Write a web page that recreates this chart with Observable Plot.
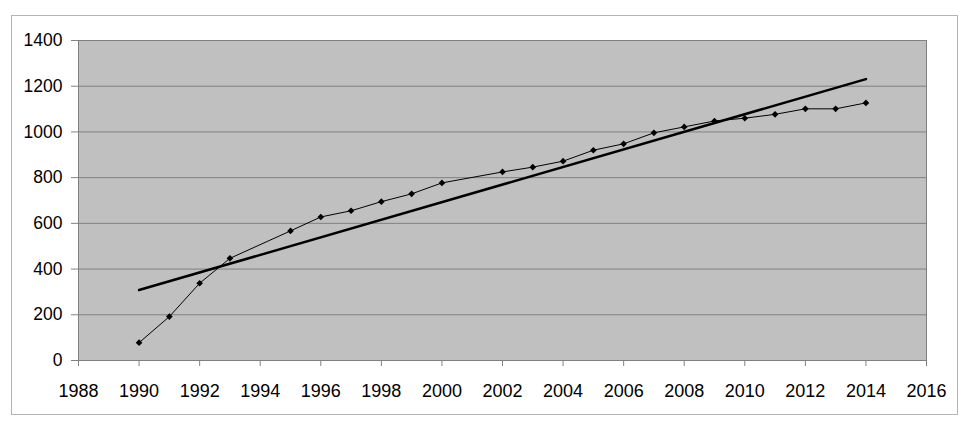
<!DOCTYPE html>
<html>
<head>
<meta charset="utf-8">
<script src="https://cdn.jsdelivr.net/npm/d3@7"></script>
<script src="https://cdn.jsdelivr.net/npm/@observablehq/plot@0.6"></script>
<style>
  html, body { margin: 0; padding: 0; background: #fff; }
  #wrap { position: relative; width: 965px; height: 424px; }
  #border { position: absolute; left: 11px; top: 15px; width: 945px; height: 398px; border: 1px solid #b4b4b4; pointer-events: none; }
  svg { font-family: "Liberation Sans", Arial, sans-serif; }
</style>
</head>
<body>
<div id="wrap"><div id="border"></div></div>
<script>
const years  = [1990, 1991, 1992, 1993, 1995, 1996, 1997, 1998, 1999, 2000, 2002, 2003, 2004, 2005, 2006, 2007, 2008, 2009, 2010, 2011, 2012, 2013, 2014];
const values = [78, 192, 338, 447, 567, 628, 655, 695, 729, 777, 825, 846, 872, 920, 948, 996, 1022, 1048, 1060, 1077, 1101, 1101, 1127];
const xTicks = d3.range(1988, 2017, 2);
const yTicks = d3.range(0, 1401, 200);

const data = years.map((y, i) => ({year: y, value: values[i]}));

const chart = Plot.plot({
  width: 965,
  height: 424,
  marginLeft: 78,
  marginRight: 39,
  marginTop: 40,
  marginBottom: 64,
  style: {fontFamily: "'Liberation Sans', Arial, sans-serif", background: "transparent"},
  x: {domain: [1988, 2016]},
  y: {domain: [0, 1400]},
  marks: [
    Plot.frame({fill: "#c0c0c0", stroke: null}),
    Plot.ruleY(yTicks, {stroke: "#808080", strokeWidth: 1}),
    Plot.frame({stroke: "#808080", strokeWidth: 1}),
    Plot.axisY({ticks: yTicks, tickSize: 7, tickPadding: 9, fontSize: 17.5, label: null, stroke: "#808080", tickFormat: d => String(d), fill: "#000"}),
    Plot.axisX({ticks: xTicks, tickSize: 6, tickPadding: 18, fontSize: 18, label: null, stroke: "#808080", tickFormat: d => String(d), fill: "#000"}),
    Plot.linearRegressionY(data, {x: "year", y: "value", stroke: "#000", strokeWidth: 2.5, ci: 0}),
    Plot.line(data, {x: "year", y: "value", stroke: "#000", strokeWidth: 1}),
    Plot.dot(data, {x: "year", y: "value", symbol: "diamond2", r: 3, fill: "#000", stroke: null})
  ]
});
document.getElementById("wrap").prepend(chart);
</script>
</body>
</html>
